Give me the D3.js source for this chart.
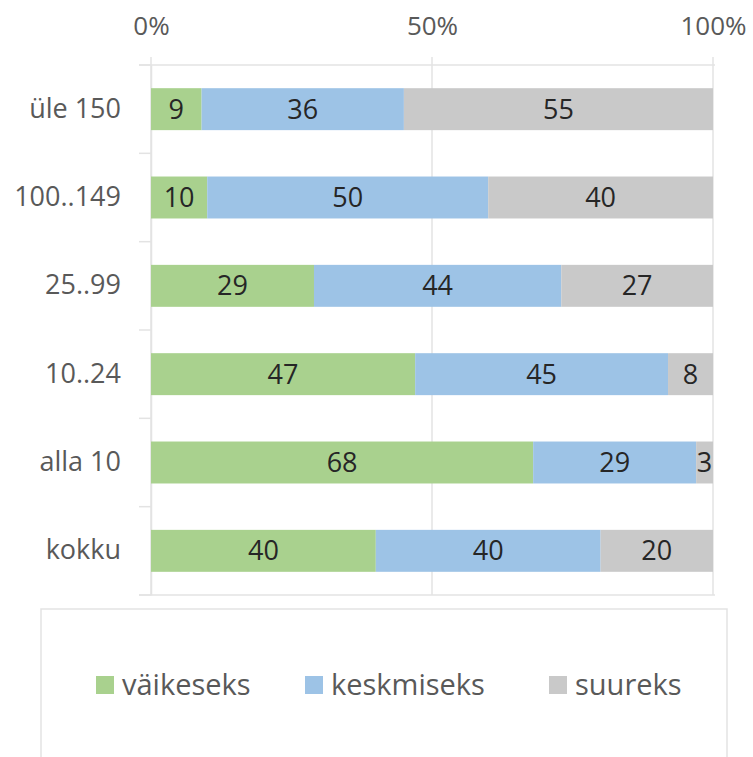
<!DOCTYPE html>
<html>
<head>
<meta charset="utf-8">
<script src="https://cdn.jsdelivr.net/npm/d3@7"></script>
<style>
  body { margin: 0; background: #fff; }
  svg text { font-family: "Open Sans", sans-serif; }
</style>
</head>
<body>
<script>
// chart data
var categories = ["üle 150", "100..149", "25..99", "10..24", "alla 10", "kokku"];
var vaikeseks = [9, 10, 29, 47, 68, 40];
var keskmiseks = [36, 50, 44, 45, 29, 40];
var suureks = [55, 40, 27, 8, 3, 20];
var seriesNames = ["väikeseks", "keskmiseks", "suureks"];
var xTicks = [0, 50, 100];

var colors = ["#A9D18E", "#9DC3E6", "#C9C9C9"];
var lineColor = "#e3e3e3";

// build rows for d3.stack
var rows = categories.map(function (c, i) {
    return { cat: c, "väikeseks": vaikeseks[i], "keskmiseks": keskmiseks[i], "suureks": suureks[i] };
});

var W = 753, H = 757;
var plot = { left: 151, right: 713, top: 65, bottom: 595 };

var svg = d3.select("body").append("svg")
    .attr("width", W)
    .attr("height", H);

var x = d3.scaleLinear().domain([0, 100]).range([plot.left, plot.right]);
var y = d3.scaleBand().domain(categories)
    .range([plot.top, plot.bottom])
    .paddingInner(0.525)
    .paddingOuter(0.2625);

// gridlines
svg.append("g").selectAll("line")
    .data(xTicks)
    .enter().append("line")
    .attr("x1", function (d) { return x(d); })
    .attr("x2", function (d) { return x(d); })
    .attr("y1", plot.top - 8)
    .attr("y2", plot.bottom)
    .attr("stroke", lineColor)
    .attr("stroke-width", 1.5);

// bottom border of plot area
svg.append("line")
    .attr("x1", plot.left - 12).attr("x2", plot.right + 2)
    .attr("y1", plot.bottom).attr("y2", plot.bottom)
    .attr("stroke", lineColor).attr("stroke-width", 1.5);

// top axis
var xAxis = svg.append("g")
    .attr("transform", "translate(0," + plot.top + ")")
    .call(d3.axisTop(x).tickValues(xTicks)
        .tickFormat(function (d) { return d + "%"; })
        .tickSizeInner(8).tickSizeOuter(0).tickPadding(22));
xAxis.select(".domain").attr("stroke", lineColor).attr("stroke-width", 1.5)
    .attr("d", "M" + (plot.left - 12) + ",0H" + (plot.right + 2));
xAxis.selectAll(".tick line").attr("stroke", "none");
xAxis.selectAll("text").attr("font-size", 26).attr("fill", "#595959")
    .attr("font-family", "Open Sans");

// left axis: labels only, ticks go between categories
var yAxis = svg.append("g")
    .attr("transform", "translate(" + plot.left + ",0)")
    .call(d3.axisLeft(y).tickSize(0).tickPadding(30));
yAxis.select(".domain").attr("stroke", lineColor).attr("stroke-width", 1.5);
yAxis.selectAll("text").attr("font-size", 27).attr("fill", "#595959")
    .attr("font-family", "Open Sans");

var bounds = categories.map(function (c) { return y(c) - y.step() * y.paddingInner() / 2; });
bounds.push(plot.bottom);
svg.append("g").selectAll("line")
    .data(bounds)
    .enter().append("line")
    .attr("x1", plot.left - 12).attr("x2", plot.left)
    .attr("y1", function (d) { return d; })
    .attr("y2", function (d) { return d; })
    .attr("stroke", lineColor).attr("stroke-width", 1.5);

// stacked bars
var stacked = d3.stack().keys(seriesNames)(rows);

var layer = svg.append("g").selectAll("g")
    .data(stacked)
    .enter().append("g")
    .attr("fill", function (d, i) { return colors[i]; });

layer.selectAll("rect")
    .data(function (d) { return d; })
    .enter().append("rect")
    .attr("x", function (d) { return x(d[0]); })
    .attr("width", function (d) { return x(d[1]) - x(d[0]); })
    .attr("y", function (d) { return y(d.data.cat); })
    .attr("height", y.bandwidth());

layer.selectAll("text")
    .data(function (d) { return d; })
    .enter().append("text")
    .attr("x", function (d) { return (x(d[0]) + x(d[1])) / 2; })
    .attr("y", function (d) { return y(d.data.cat) + y.bandwidth() / 2; })
    .attr("dy", "0.35em")
    .attr("text-anchor", "middle")
    .attr("font-size", 27)
    .attr("fill", "#262626")
    .text(function (d) { return d[1] - d[0]; });

// legend
svg.append("rect")
    .attr("x", 41).attr("y", 609)
    .attr("width", 686).attr("height", 180)
    .attr("fill", "none")
    .attr("stroke", lineColor).attr("stroke-width", 1.5);

var legendX = [96, 305, 549];
var legend = svg.append("g").selectAll("g")
    .data(seriesNames)
    .enter().append("g")
    .attr("transform", function (d, i) { return "translate(" + legendX[i] + ",676)"; });

legend.append("rect")
    .attr("width", 18).attr("height", 18)
    .attr("fill", function (d, i) { return colors[i]; });

legend.append("text")
    .attr("x", 26).attr("y", 9)
    .attr("dy", "0.35em")
    .attr("font-size", 29)
    .attr("fill", "#595959")
    .text(function (d) { return d; });
</script>
</body>
</html>
